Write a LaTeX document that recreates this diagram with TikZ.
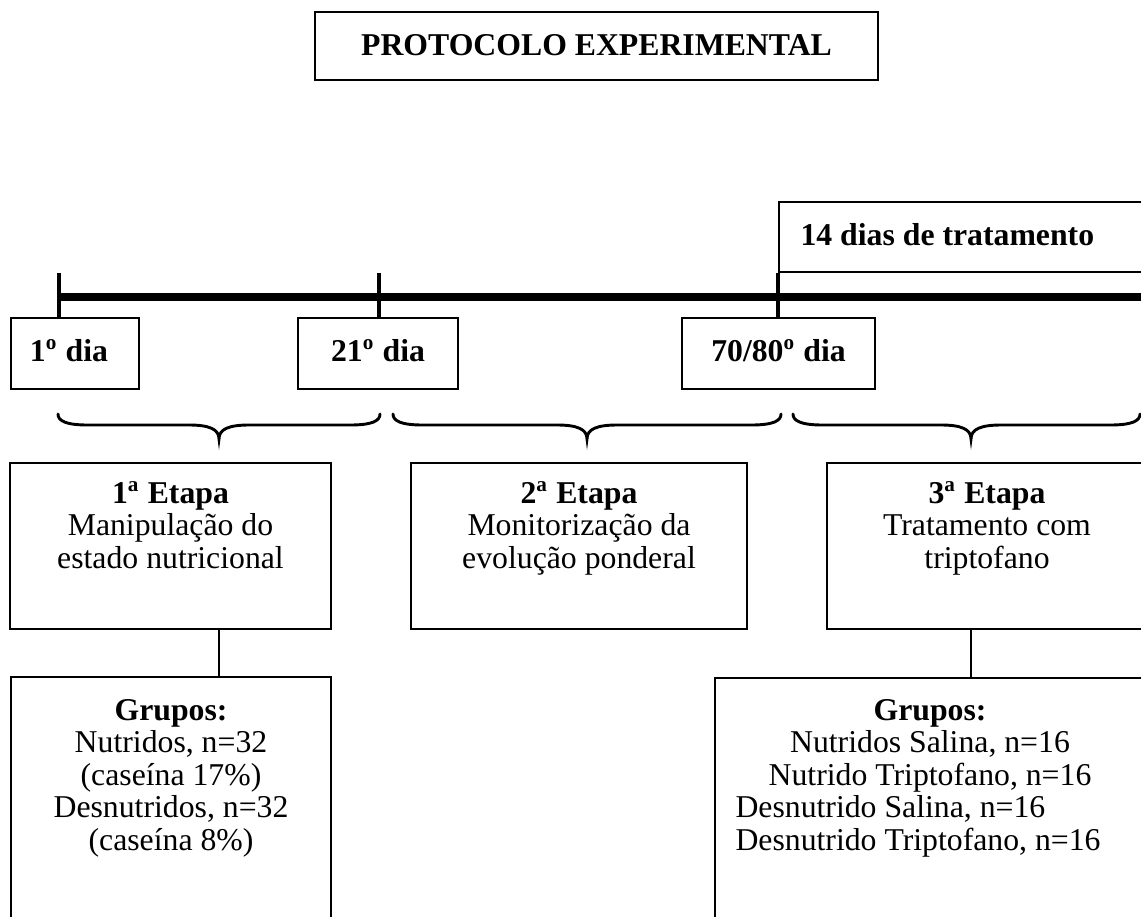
\documentclass[tikz,border=0pt]{standalone}
\usepackage{fontspec}
\setmainfont{Liberation Serif}
\usetikzlibrary{fit}
\newcommand\mybrace[3]{%
  \draw[bracestyle] (#1,414) .. controls (#1,421) and (#1+8,425) .. (#1+30,425)
    -- (#2-30,425) .. controls (#2-10,425) and (#2,429) .. (#2,439)
    .. controls (#2,429) and (#2+10,425) .. (#2+30,425)
    -- (#3-30,425) .. controls (#3-8,425) and (#3,421) .. (#3,414);}
\begin{document}
\begin{tikzpicture}[x=0.378pt,y=-0.378pt,
  box/.style={draw, line width=0.5pt, inner sep=0pt},
  txt/.style={inner sep=0pt, font=\fontsize{12}{12.3}\selectfont},
  tickline/.style={line width=1.25pt},
  bracestyle/.style={line width=1.1pt, line cap=round},
  conn/.style={line width=0.5pt},
]
\useasboundingbox (0,0) rectangle (1141,916);
\clip (0,0) rectangle (1141,916);

% title
\node[box, fit={(315,12) (878,80)}] (title) {};
\node[txt, anchor=base] (titleT) at (596.5,55) {\bfseries PROTOCOLO EXPERIMENTAL};

% 14 dias box
\node[box, fit={(779,202) (1170,272)}] (t14) {};
\node[txt, anchor=base west] (t14T) at (800,245) {\bfseries 14 dias de tratamento};

% timeline
\coordinate (tl0) at (57.5,297);
\coordinate (tl1) at (1160,297);
\draw[line width=2.7pt] (tl0) -- (tl1);

% day boxes
\node[box, fit={(11,318) (139,389)}] (d1) {};
\node[box, fit={(298,318) (458,389)}] (d2) {};
\node[box, fit={(682,318) (875,389)}] (d3) {};
\node[txt, anchor=base] (d1T) at (69,361) {\bfseries 1\textsuperscript{o} dia};
\node[txt, anchor=base] (d2T) at (378,361) {\bfseries 21\textsuperscript{o} dia};
\node[txt, anchor=base] (d3T) at (778.5,361) {\bfseries 70/80\textsuperscript{o} dia};

% ticks
\coordinate (k1) at (59,273);
\coordinate (k2) at (379,273);
\draw[tickline] (k1) -- (d1.north -| k1);
\draw[tickline] (k2) -- (d2.north -| k2);
\draw[line width=1.5pt] (t14.south west) -- (d3.north -| t14.south west);

% braces
\mybrace{58}{219}{380}
\mybrace{393}{587}{781}
\mybrace{793}{971}{1140}

% etapa boxes
\node[box, fit={(10,463) (331,629)}] (e1) {};
\node[box, fit={(411,463) (747,629)}] (e2) {};
\node[box, fit={(827,463) (1147,629)}] (e3) {};
\node[txt, anchor=base] (e1T) at (170.5,503) {\begin{tabular}[t]{@{}c@{}}\textbf{1\textsuperscript{a} Etapa}\\ Manipulação do\\ estado nutricional\end{tabular}};
\node[txt, anchor=base] (e2T) at (579,503) {\begin{tabular}[t]{@{}c@{}}\textbf{2\textsuperscript{a} Etapa}\\ Monitorização da\\ evolução ponderal\end{tabular}};
\node[txt, anchor=base] (e3T) at (987,503) {\begin{tabular}[t]{@{}c@{}}\textbf{3\textsuperscript{a} Etapa}\\ Tratamento com\\ triptofano\end{tabular}};

% grupos boxes
\node[box, fit={(11,677) (331,960)}] (g1) {};
\node[box, fit={(715,678) (1147,960)}] (g2) {};
\node[txt, anchor=base] (g1T) at (171,720) {\begin{tabular}[t]{@{}c@{}}\textbf{Grupos:}\\ Nutridos, n=32\\ (caseína 17\%)\\ Desnutridos, n=32\\ (caseína 8\%)\end{tabular}};
\node[txt, anchor=base] (g2T) at (930,720) {\begin{tabular}[t]{@{}c@{}}\textbf{Grupos:}\\ Nutridos Salina, n=16\\ Nutrido Triptofano, n=16\end{tabular}};
\node[txt, anchor=base west] (g2L) at (735,817.5) {\begin{tabular}[t]{@{}l@{}}Desnutrido Salina, n=16\\ Desnutrido Triptofano, n=16\end{tabular}};

% connectors
\coordinate (c1) at (219,650);
\coordinate (c3) at (971,650);
\draw[conn] (e1.south -| c1) -- (g1.north -| c1);
\draw[conn] (e3.south -| c3) -- (g2.north -| c3);
\end{tikzpicture}
\end{document}
